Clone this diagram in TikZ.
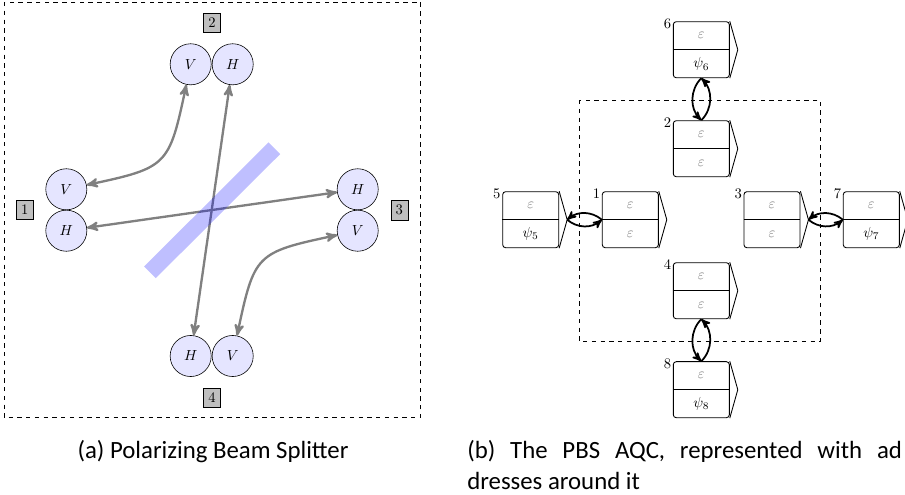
\documentclass[tikz,border=0pt]{standalone}
\usepackage{fontspec}
\newfontfamily\capfont{Carlito}
\usetikzlibrary{arrows}

\begin{document}
\begin{tikzpicture}[>=stealth']
  \tikzset{pol/.style={circle,draw,fill=blue!10,minimum size=0.99cm,inner sep=0pt},
    port/.style={draw,fill=gray!50},
    beam/.style={<->,gray,line width=1.6pt},
    cell/.style={draw,semithick,rounded corners=2pt,minimum width=1.35cm,minimum height=1.35cm,inner sep=0pt},
    link/.style={->,very thick},
    captext/.style={inner sep=0pt,font=\capfont\fontsize{17}{21.3}\selectfont}}
  \clip (0,0) rectangle (21.807,-11.904);
  % (a) the beam splitter
  \draw[dashed] (0.096,-0.048) rectangle (10.133,-10.060);
  \node[pol] (v2) at (4.595,-1.549) {$V$};
  \node[pol] (h2) at (5.607,-1.549) {$H$};
  \node[pol] (v1) at (1.598,-4.561) {$V$};
  \node[pol] (h1) at (1.598,-5.559) {$H$};
  \node[pol] (h3) at (8.619,-4.561) {$H$};
  \node[pol] (v3) at (8.619,-5.559) {$V$};
  \node[pol] (h4) at (4.595,-8.578) {$H$};
  \node[pol] (v4) at (5.607,-8.578) {$V$};
  \node[port] (p1) at (0.595,-5.060) {1};
  \node[port] (p2) at (5.108,-0.547) {2};
  \node[port] (p3) at (9.622,-5.060) {3};
  \node[port] (p4) at (5.108,-9.583) {4};
  \draw[beam] (v1) to[out=12,in=-102,looseness=1.5] (v2);
  \draw[beam] (v3) to[out=192,in=78,looseness=1.5] (v4);
  \draw[beam] (h1) -- (h3);
  \draw[beam] (h2) -- (h4);
  \draw[blue,opacity=0.25,line width=11.3pt] (3.614,-6.561) -- (6.610,-3.573);
  % (b) the AQC with its addresses
  \draw[dashed] (13.959,-2.410) rectangle (19.766,-8.224);
  \foreach \n/\x/\y/\low in {1/15.188/-5.294/{\color{gray}$\varepsilon$},
      2/16.899/-3.583/{\color{gray}$\varepsilon$},
      3/18.602/-5.294/{\color{gray}$\varepsilon$},
      4/16.899/-7.005/{\color{gray}$\varepsilon$},
      5/12.788/-5.294/{$\psi_5$},
      6/16.899/-1.198/{$\psi_6$},
      7/20.995/-5.294/{$\psi_7$},
      8/16.899/-9.390/{$\psi_8$}}{
    \node[cell] (q\n) at (\x,\y) {};
    \draw[thick] (q\n.west) -- (q\n.east);
    \draw[semithick] (q\n.north east) -- ([xshift=0.193cm]q\n.east) coordinate (q\n-tip) -- (q\n.south east);
    \node[gray] (e\n) at ([yshift=-0.3375cm]q\n.north) {$\varepsilon$};
    \node (s\n) at ([yshift=0.3375cm]q\n.south) {\low};
    \node[anchor=east,inner sep=1pt] (n\n) at ([yshift=-0.06cm]q\n.north west) {\n};
  }
  \draw[link] (q1.west) to[bend right=40] (q5-tip);
  \draw[link] (q5-tip) to[bend right=40] (q1.west);
  \draw[link] (q7.west) to[bend right=40] (q3-tip);
  \draw[link] (q3-tip) to[bend right=40] (q7.west);
  \draw[link] (q6.south) to[bend right=45] (q2.north);
  \draw[link] (q2.north) to[bend right=45] (q6.south);
  \draw[link] (q4.south) to[bend right=45] (q8.north);
  \draw[link] (q8.north) to[bend right=45] (q4.south);
  % captions
  \node[captext,anchor=base] (capa) at (5.133,-11.036) {(a) Polarizing Beam Splitter};
  \node[captext,anchor=base west] (capb) at (11.253,-11.036) {\makebox[298pt][s]{(b) The PBS AQC, represented with ad}};
  \node[captext,anchor=base west] (capc) at (11.253,-11.783) {dresses around it};
\end{tikzpicture}
\end{document}
